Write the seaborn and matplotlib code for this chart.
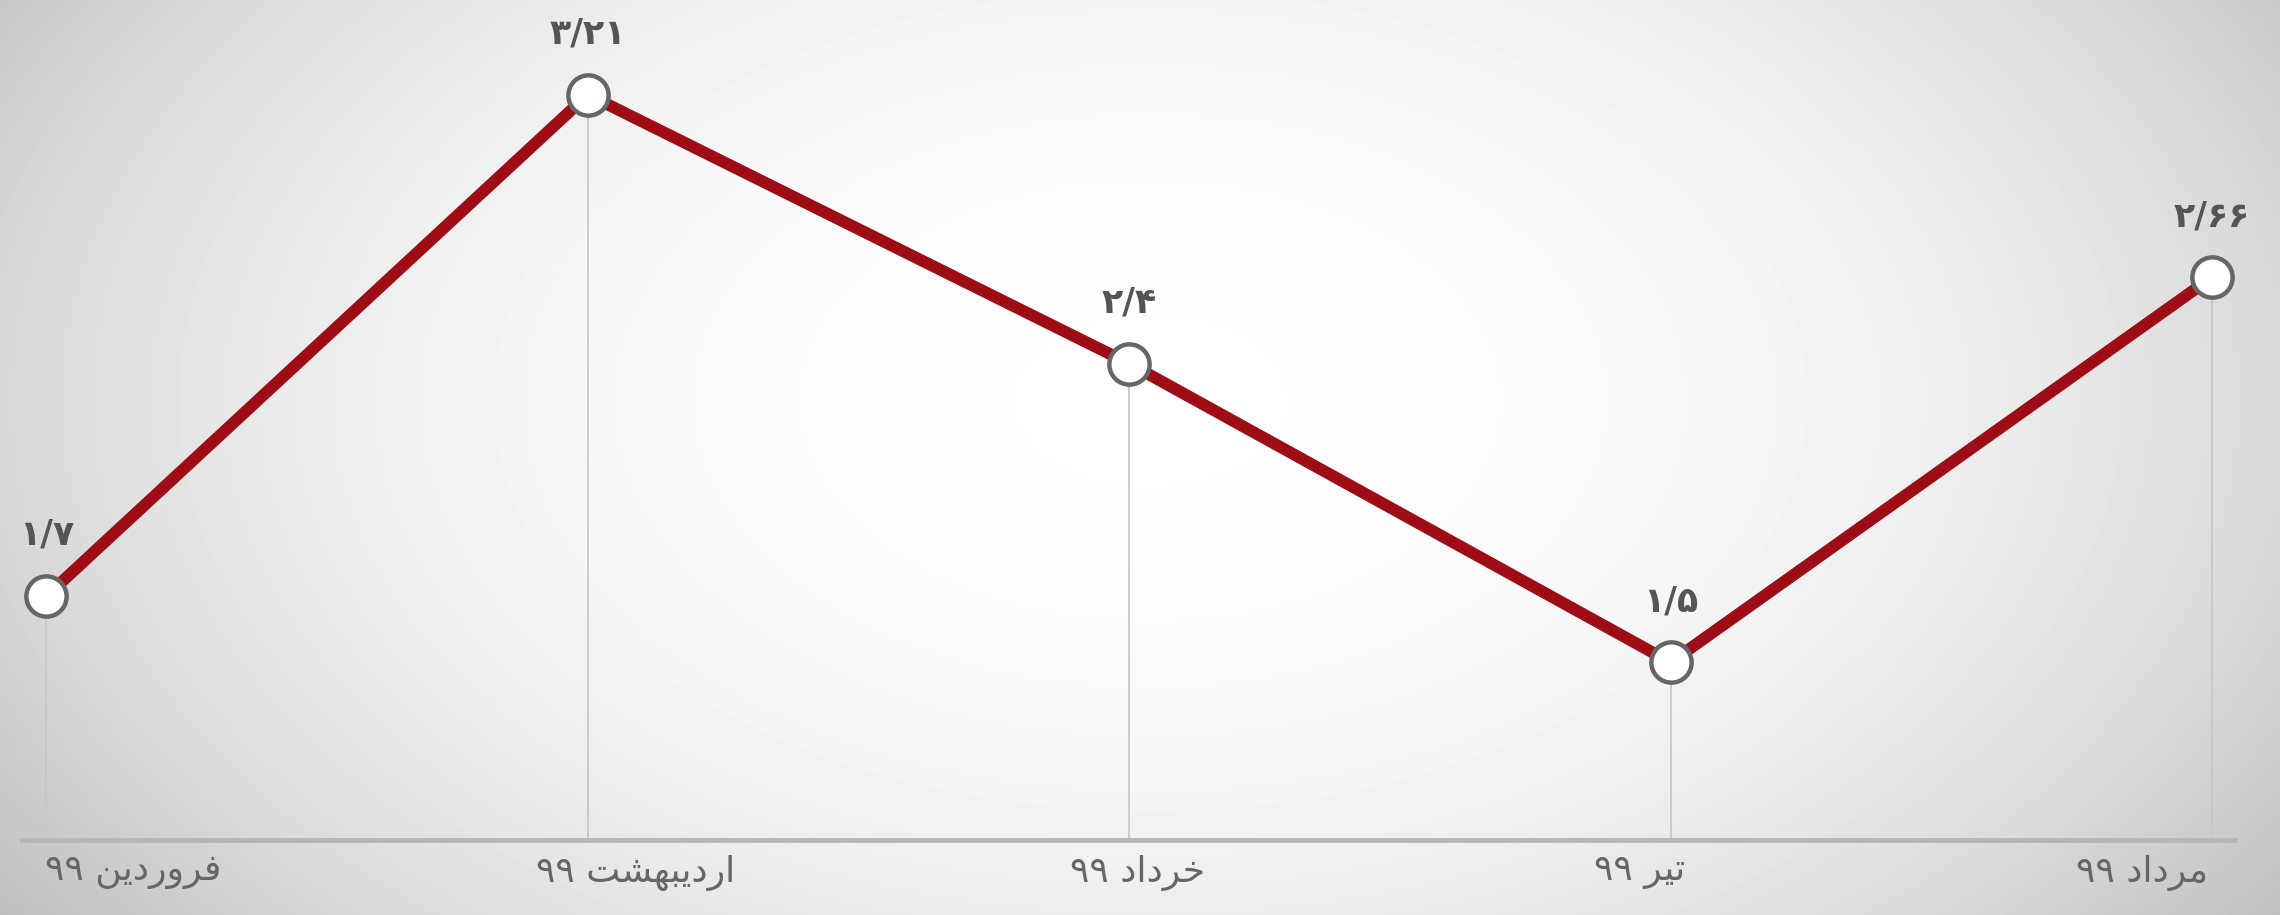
import numpy as np
import matplotlib
matplotlib.use("Agg")
import matplotlib.pyplot as plt
import seaborn as sns

# data
months = ["فروردین ۹۹", "اردیبهشت ۹۹", "خرداد ۹۹", "تیر ۹۹", "مرداد ۹۹"]
values = [1.7, 3.21, 2.4, 1.5, 2.66]

# matplotlib has no arabic shaping, so map letters to presentation forms by hand
FORMS = {
    'ا': ('\uFE8D', '\uFE8E', None, None),
    'ب': ('\uFE8F', '\uFE90', '\uFE91', '\uFE92'),
    'ت': ('\uFE95', '\uFE96', '\uFE97', '\uFE98'),
    'خ': ('\uFEA5', '\uFEA6', '\uFEA7', '\uFEA8'),
    'د': ('\uFEA9', '\uFEAA', None, None),
    'ر': ('\uFEAD', '\uFEAE', None, None),
    'ش': ('\uFEB5', '\uFEB6', '\uFEB7', '\uFEB8'),
    'ف': ('\uFED1', '\uFED2', '\uFED3', '\uFED4'),
    'م': ('\uFEE1', '\uFEE2', '\uFEE3', '\uFEE4'),
    'ن': ('\uFEE5', '\uFEE6', '\uFEE7', '\uFEE8'),
    'ه': ('\uFEE9', '\uFEEA', '\uFEEB', '\uFEEC'),
    'و': ('\uFEED', '\uFEEE', None, None),
    'ی': ('\uFBFC', '\uFBFD', '\uFBFE', '\uFBFF'),
}


def shape_word(w):
    out = []
    for i, ch in enumerate(w):
        if ch not in FORMS:
            out.append(ch)
            continue
        prev = w[i - 1] if i > 0 else None
        nxt = w[i + 1] if i + 1 < len(w) else None
        join_prev = prev in FORMS and FORMS[prev][2] is not None
        join_next = FORMS[ch][2] is not None and nxt in FORMS
        iso, fin, ini, med = FORMS[ch]
        if join_prev and join_next:
            out.append(med)
        elif join_prev:
            out.append(fin)
        elif join_next:
            out.append(ini)
        else:
            out.append(iso)
    return "".join(out)


def rtl(text):
    words = text.split(" ")
    vis = []
    for w in words:
        if any(c in FORMS for c in w):
            vis.append(shape_word(w)[::-1])
        else:
            vis.append(w)
    return " ".join(vis[::-1])


def fa_num(v):
    s = f"{v:g}"
    return s.translate(str.maketrans("0123456789.", "۰۱۲۳۴۵۶۷۸۹/"))


W, H, DPI = 2280, 915, 100
fig = plt.figure(figsize=(W / DPI, H / DPI), dpi=DPI)

# soft radial background
bg = fig.add_axes([0, 0, 1, 1], zorder=-10)
yy, xx = np.mgrid[0:H, 0:W]
r = np.sqrt(((xx - 1150) / 1200.0) ** 2 + ((yy - 400) / 750.0) ** 2)
grad = np.clip(0.997 - 0.17 * r ** 2.4, 0, 1)
bg.imshow(grad, cmap="gray", vmin=0, vmax=1, aspect="auto", interpolation="bilinear")
bg.axis("off")

sns.set_style("white")
plt.rcParams['font.family'] = ['DejaVu Sans']

ax = fig.add_axes([22 / W, 75 / H, 2213 / W, 840 / H])
ax.patch.set_alpha(0)

xs = np.arange(len(values))
ylo, yhi = 0.965, 3.495

ax.vlines(xs, ylo, values, color="#c8c8c8", lw=1.3, zorder=1)
sns.lineplot(x=xs, y=values, ax=ax, color="#9e0d16", lw=8.5, marker="o",
             markersize=29, markerfacecolor="white", markeredgecolor="#666666",
             markeredgewidth=3.2, zorder=3)

for x, v in zip(xs, values):
    ax.annotate(fa_num(v), (x, v), xytext=(0, 44), textcoords="offset points",
                ha="center", va="center", fontsize=25, fontweight="bold",
                color="#555555")

ax.set_xlim(-24.5 / 541.4, 4 + 23 / 541.4)
ax.set_ylim(ylo, yhi)
ax.set_xticks(np.linspace(0.16, 3.87, len(months)))
ax.set_xticklabels([rtl(m) for m in months], fontsize=26, color="#666666")
ax.tick_params(axis="x", length=0, pad=11)
ax.set_yticks([])
ax.set_xlabel("")
ax.set_ylabel("")
for s in ["top", "left", "right"]:
    ax.spines[s].set_visible(False)
ax.spines["bottom"].set_color("#b5b5b5")
ax.spines["bottom"].set_linewidth(3.4)

fig.savefig("out.png", dpi=DPI)
